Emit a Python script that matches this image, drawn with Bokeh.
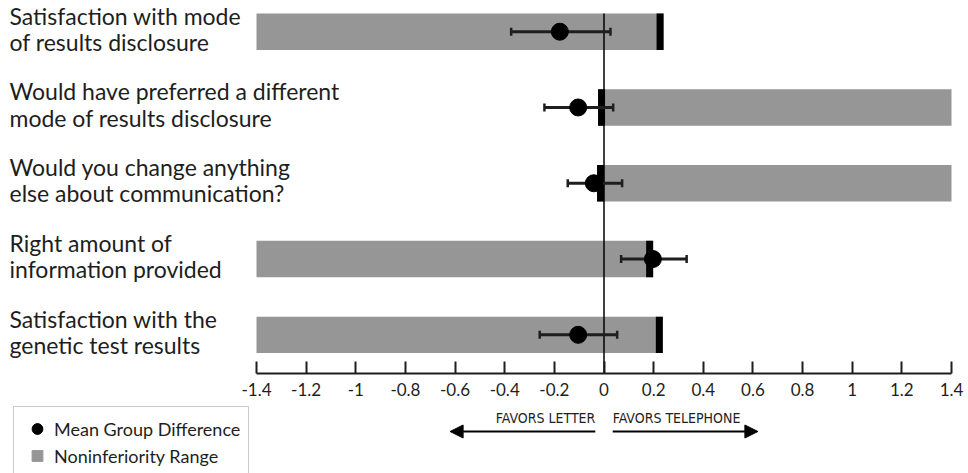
from bokeh.plotting import figure
from bokeh.models import (Range1d, FixedTicker, Whisker, TeeHead, ColumnDataSource,
                          LabelSet, Legend, LegendItem, Arrow, NormalHead, Label)
from bokeh.layouts import column
from bokeh.embed import file_html
from bokeh.resources import INLINE
from bokeh.core.properties import value

# ---------------- data ----------------
LABELS = ["Satisfaction with mode\nof results disclosure",
          "Would have preferred a different\nmode of results disclosure",
          "Would you change anything\nelse about communication?",
          "Right amount of\ninformation provided",
          "Satisfaction with the\ngenetic test results"]
ROW_Y = [5, 4, 3, 2, 1]
MEAN_DIFF = [-0.178, -0.104, -0.041, 0.197, -0.104]
CI_LOW = [-0.374, -0.240, -0.146, 0.069, -0.259]
CI_HIGH = [0.026, 0.037, 0.073, 0.333, 0.053]
RANGE_LEFT = [-1.4, -0.024, -0.028, -1.4, -1.4]
RANGE_RIGHT = [0.240, 1.4, 1.4, 0.198, 0.237]
MARGIN = [0.240, -0.024, -0.028, 0.198, 0.237]
TICKS = [-1.4, -1.2, -1.0, -0.8, -0.6, -0.4, -0.2, 0.0, 0.2, 0.4, 0.6, 0.8, 1.0, 1.2, 1.4]
TICK_LABELS = ["-1.4", "-1.2", "-1", "-0.8", "-0.6", "-0.4", "-0.2", "0",
               "0.2", "0.4", "0.6", "0.8", "1", "1.2", "1.4"]
LEGEND_LABELS = ["Mean Group Difference", "Noninferiority Range"]
DIRECTION_LABELS = ["FAVORS LETTER", "FAVORS TELEPHONE"]

# ---------------- style / layout ----------------
GRAY = "#969696"
INK = "#1e1e1e"
FONT = "Lato"
NARROW = "Liberation Sans Narrow, DejaVu Sans Condensed, Roboto Condensed, Roboto"
FRAME_W = 968
AX_L_PX, AX_R_PX = 256, 951          # pixel offsets of -1.4 and 1.4 in frame
scale = (AX_R_PX - AX_L_PX) / 2.8
X_START = -1.4 - AX_L_PX / scale
X_END = 1.4 + (FRAME_W - AX_R_PX) / scale
MARK_W = 7 / scale
BAR_H = 0.48
Y0, Y_BAR_TOP = 0.49, 5.24
FRAME_H = 373
Y_SCALE = 360 / (Y_BAR_TOP - Y0)
Y1 = Y_BAR_TOP + 13 / Y_SCALE

mark_left, mark_right = [], []
for m, l, r in zip(MARGIN, RANGE_LEFT, RANGE_RIGHT):
    if m == r:
        mark_left.append(m - MARK_W); mark_right.append(m)
    else:
        mark_left.append(m); mark_right.append(m + MARK_W)

src = ColumnDataSource(dict(y=ROW_Y, label=LABELS, mean=MEAN_DIFF, lo=CI_LOW, hi=CI_HIGH,
                            left=RANGE_LEFT, right=RANGE_RIGHT,
                            mleft=mark_left, mright=mark_right))

xr = Range1d(X_START, X_END)
p1 = figure(frame_width=FRAME_W, frame_height=FRAME_H, x_range=xr, y_range=Range1d(Y0, Y1),
            output_backend="svg", toolbar_location=None, y_axis_location=None,
            min_border=0)
p1.grid.visible = False
p1.outline_line_color = None

p1.hbar(y="y", left="left", right="right", height=BAR_H, source=src,
        fill_color=GRAY, line_color=None)
p1.hbar(y="y", left="mleft", right="mright", height=BAR_H, source=src,
        fill_color="black", line_color=None)
# zero reference line, from the axis up to the top of the first bar
top_of_bars = max(ROW_Y) + BAR_H / 2
p1.segment(x0=[0], x1=[0], y0=[Y0], y1=[top_of_bars], line_color="black", line_width=1.5)
p1.add_layout(Whisker(source=src, base="y", lower="lo", upper="hi", dimension="width",
                      line_width=3, line_color=INK, level="annotation",
                      lower_head=TeeHead(size=8, line_width=2.5, line_color=INK),
                      upper_head=TeeHead(size=8, line_width=2.5, line_color=INK)))
p1.scatter(x="mean", y="y", source=src, marker="circle", size=17,
           fill_color="black", line_color="black", level="overlay")

p1.add_layout(LabelSet(x=9, y="y", x_units="screen", y_offset=3, text="label", source=src,
                       text_font=value(FONT), text_font_size="23px", text_color=INK,
                       text_baseline="middle", text_align="left", text_line_height=0.94))

ax = p1.xaxis[0]
ax.ticker = FixedTicker(ticks=TICKS)
ax.major_label_overrides = dict(zip(TICKS, TICK_LABELS))
ax.bounds = (-1.4, 1.4)
ax.major_tick_in = 12
ax.major_tick_out = 0
ax.minor_tick_line_color = None
ax.axis_line_width = 2
ax.major_tick_line_width = 2
ax.axis_line_color = INK
ax.major_tick_line_color = INK
ax.major_label_text_font = FONT
ax.major_label_text_font_size = "17px"
ax.major_label_text_color = INK
ax.major_label_standoff = 9

# ---------------- lower strip: legend and direction arrows ----------------
H2 = 75
p2 = figure(frame_width=FRAME_W, frame_height=H2, x_range=xr, y_range=Range1d(-H2, 0),
            output_backend="svg", toolbar_location=None, x_axis_location=None,
            y_axis_location=None, min_border=0)
p2.grid.visible = False
p2.outline_line_color = None

# legend proxies: real data points that fall outside this strip's visible y range
r_c = p2.scatter(x=MEAN_DIFF[:1], y=ROW_Y[:1], marker="circle",
                 fill_color="black", line_color="black")
r_s = p2.scatter(x=RANGE_LEFT[:1], y=ROW_Y[:1], marker="square",
                 fill_color=GRAY, line_color=GRAY)
legend = Legend(items=[LegendItem(label=LEGEND_LABELS[0], renderers=[r_c]),
                       LegendItem(label=LEGEND_LABELS[1], renderers=[r_s])],
                location=(13, -5), margin=0, padding=8, spacing=0,
                glyph_width=30, glyph_height=27, label_height=27, label_standoff=2,
                label_text_font=FONT, label_text_font_size="18px", label_text_color=INK,
                border_line_color="#9a9a9a", border_line_width=1.5,
                background_fill_color="white", background_fill_alpha=1)
p2.add_layout(legend, "center")

ARROW_IN, ARROW_OUT = 0.035, 0.62
ARROW_Y, TEXT_Y = -33, -19
for sgn, txt, align in [(-1, DIRECTION_LABELS[0], "right"), (1, DIRECTION_LABELS[1], "left")]:
    p2.add_layout(Arrow(x_start=sgn * ARROW_IN, x_end=sgn * ARROW_OUT,
                        y_start=ARROW_Y, y_end=ARROW_Y, line_width=2, line_color="black",
                        end=NormalHead(size=13, fill_color="black", line_color="black")))
    p2.add_layout(Label(x=sgn * ARROW_IN, y=TEXT_Y, text=txt, text_align=align,
                        text_baseline="middle", text_font=NARROW,
                        text_font_size="14px", text_color=INK))

layout = column(p1, p2, spacing=0)
open("out.html", "w").write(file_html(layout, INLINE))
